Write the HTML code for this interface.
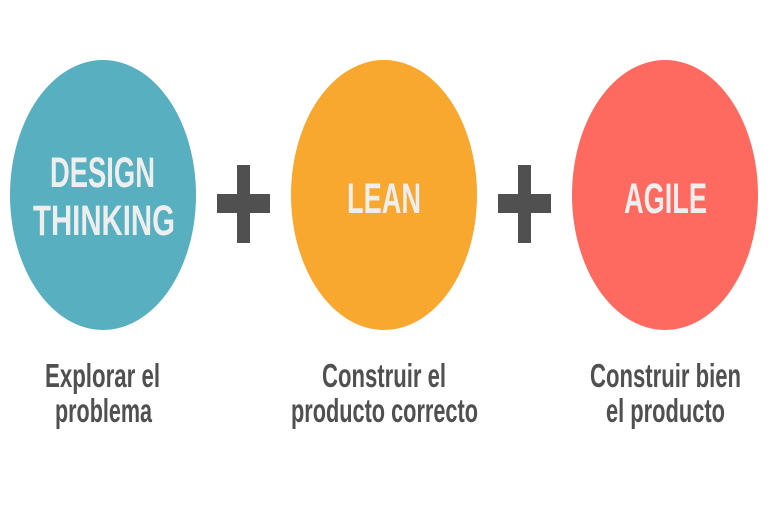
<!DOCTYPE html>
<html><head><meta charset="utf-8"><style>html,body{margin:0;padding:0;background:#fff;}</style></head>
<body>
<svg width="768" height="512" viewBox="0 0 768 512" xmlns="http://www.w3.org/2000/svg" font-family="Liberation Sans, sans-serif">
<rect width="768" height="512" fill="#fff"/>
<ellipse cx="103" cy="195" rx="93" ry="135" fill="#57afbf"/>
<ellipse cx="384" cy="195" rx="93" ry="135" fill="#f8a72f"/>
<ellipse cx="665" cy="195" rx="93" ry="135" fill="#fe6a60"/>
<rect x="237" y="165" width="13" height="78" fill="#505050"/>
<rect x="217" y="194" width="53" height="19" fill="#505050"/>
<rect x="518" y="165" width="13" height="78" fill="#505050"/>
<rect x="498" y="194" width="53" height="19" fill="#505050"/>
<g fill="#eeeeee" font-weight="bold" font-size="43">
<text x="50" y="187" textLength="105" lengthAdjust="spacingAndGlyphs">DESIGN</text>
<text x="33" y="235" textLength="142" lengthAdjust="spacingAndGlyphs">THINKING</text>
<text x="347" y="213" textLength="74" lengthAdjust="spacingAndGlyphs">LEAN</text>
<text x="624" y="213" textLength="83" lengthAdjust="spacingAndGlyphs">AGILE</text>
</g>
<g fill="#505050" font-size="33" font-weight="bold">
<text x="45" y="387" textLength="115" lengthAdjust="spacingAndGlyphs">Explorar el</text>
<text x="55" y="422" textLength="97" lengthAdjust="spacingAndGlyphs">problema</text>
<text x="322" y="387" textLength="124" lengthAdjust="spacingAndGlyphs">Construir el</text>
<text x="291" y="422" textLength="187" lengthAdjust="spacingAndGlyphs">producto correcto</text>
<text x="590" y="387" textLength="151" lengthAdjust="spacingAndGlyphs">Construir bien</text>
<text x="606" y="422" textLength="119" lengthAdjust="spacingAndGlyphs">el producto</text>
</g>
</svg>
</body></html>
